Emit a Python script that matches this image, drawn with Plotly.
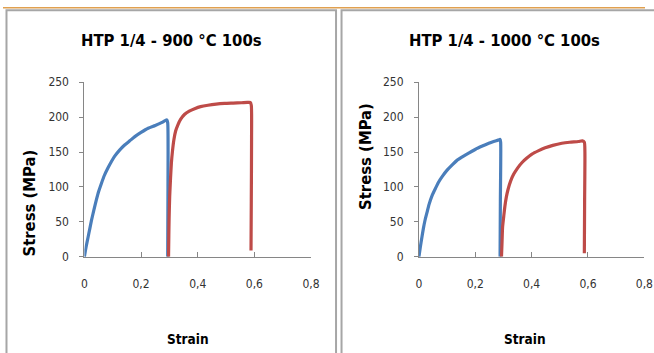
import plotly.graph_objects as go

# ---- data ----
titles = ["HTP 1/4 - 900 °C 100s", "HTP 1/4 - 1000 °C 100s"]
x_ticks = [0, 0.2, 0.4, 0.6, 0.8]
x_tick_labels = ["0", "0,2", "0,4", "0,6", "0,8"]
y_ticks = [0, 50, 100, 150, 200, 250]

s900_a_strain = [0, 0.006, 0.013, 0.019, 0.025, 0.033, 0.042, 0.05, 0.06, 0.07, 0.083, 0.095, 0.107, 0.125, 0.142, 0.16, 0.178, 0.2, 0.225, 0.25, 0.272, 0.285, 0.291, 0.294, 0.295, 0.294]
s900_a_stress = [0, 14, 28, 40, 52, 66, 81, 93, 105, 116, 127, 136, 144, 153, 160, 166, 172, 178, 184, 188, 192, 195, 196, 192, 100, 0]
s900_b_strain = [0.297, 0.298, 0.299, 0.301, 0.304, 0.307, 0.311, 0.316, 0.322, 0.33, 0.34, 0.354, 0.37, 0.389, 0.41, 0.436, 0.465, 0.495, 0.525, 0.554, 0.575, 0.585, 0.589, 0.59, 0.589, 0.588]
s900_b_stress = [0, 30, 55, 86, 112, 134, 152, 168, 180, 189, 197, 204, 208.5, 212, 215, 217, 218.5, 219.5, 220, 220.5, 221, 221, 217, 170, 80, 9]

s1000_a_strain = [0, 0.005, 0.011, 0.016, 0.022, 0.029, 0.036, 0.047, 0.06, 0.07, 0.083, 0.1, 0.119, 0.135, 0.154, 0.175, 0.201, 0.225, 0.248, 0.265, 0.281, 0.288, 0.29, 0.289, 0.288]
s1000_a_stress = [0, 14, 29, 41, 53, 64, 75, 88, 99, 107, 115, 124, 132, 138, 143, 148, 154, 158.5, 162.5, 165, 167, 168, 164, 80, 0]
s1000_b_strain = [0.293, 0.295, 0.297, 0.301, 0.305, 0.31, 0.316, 0.325, 0.336, 0.35, 0.366, 0.382, 0.401, 0.425, 0.448, 0.475, 0.507, 0.535, 0.566, 0.58, 0.587, 0.589, 0.588, 0.587]
s1000_b_stress = [0, 22, 43, 58, 72, 85, 96, 108, 118, 127, 135, 141, 147, 152, 156, 159.5, 162.5, 164, 165, 166, 164, 150, 80, 5]

BLUE = "#4a7ebb"
RED = "#be4b48"
W, H = 654, 353
FONT = "DejaVu Sans Condensed, Lato, sans-serif"

# target-pixel -> figure-pixel mapping (compensates the page offset seen in the capture)
def fx(t):
    return min(max((t - 1.5) / 0.983, 0), W)


def fy(t):
    return min(max((t - 6.6) / 0.957, 0), H)


def px(t):
    return fx(t) / W


def py(t):
    return 1 - fy(t) / H


fig = go.Figure()


def add(x, y, color, xa, ya):
    fig.add_trace(go.Scatter(x=x, y=y, mode="lines",
                             line=dict(color=color, width=3.2, shape="spline", smoothing=0.6),
                             xaxis=xa, yaxis=ya, showlegend=False, hoverinfo="skip"))


add(s900_a_strain, s900_a_stress, BLUE, "x", "y")
add(s900_b_strain, s900_b_stress, RED, "x", "y")
add(s1000_a_strain, s1000_a_stress, BLUE, "x2", "y2")
add(s1000_b_strain, s1000_b_stress, RED, "x2", "y2")

ydom = [py(255.5), py(81.5)]
xcommon = dict(range=[0, 0.8], tickvals=x_ticks, ticktext=x_tick_labels, showgrid=False,
               zeroline=False, showline=True, linecolor="#868686", linewidth=1,
               ticks="inside", ticklen=5, tickcolor="#868686",
               tickfont=dict(family=FONT, size=12, color="#333333"), ticklabelstandoff=16)
ycommon = dict(range=[0, 250], tickvals=y_ticks, showgrid=False, zeroline=False,
               showline=True, linecolor="#868686", linewidth=1,
               ticks="outside", ticklen=4, tickcolor="#868686",
               tickfont=dict(family=FONT, size=12, color="#333333"), ticklabelstandoff=8)

fig.update_layout(
    width=W, height=H, margin=dict(l=0, r=0, t=0, b=0),
    paper_bgcolor="white", plot_bgcolor="white",
    xaxis=dict(domain=[px(83), px(310)], anchor="y", **xcommon),
    yaxis=dict(domain=ydom, anchor="x", **ycommon),
    xaxis2=dict(domain=[px(418), min(px(645), 0.999)], anchor="y2", **xcommon),
    yaxis2=dict(domain=ydom, anchor="x2", **ycommon),
)

shapes = [
    dict(type="line", xref="paper", yref="paper", x0=0, x1=1, y0=0.998, y1=0.998,
         line=dict(color="#e0a050", width=1.5)),
    dict(type="rect", xref="paper", yref="paper", x0=px(5), x1=px(335), y0=-0.1, y1=1 - 3.5 / H,
         line=dict(color="#a6a6a6", width=2)),
    dict(type="rect", xref="paper", yref="paper", x0=px(340.5), x1=1.1, y0=-0.1, y1=1 - 3.5 / H,
         line=dict(color="#a6a6a6", width=2)),
]
fig.update_layout(shapes=shapes)

ann = []
for t, cx in zip(titles, [170, 504]):
    ann.append(dict(text="<b>" + t + "</b>", x=px(cx), y=py(40), xref="paper", yref="paper",
                    showarrow=False, xanchor="center", yanchor="middle",
                    font=dict(family=FONT, size=16.5, color="#000000")))
for cx in [187, 524]:
    ann.append(dict(text="<b>Strain</b>", x=px(cx), y=py(337), xref="paper", yref="paper",
                    showarrow=False, xanchor="center", yanchor="middle",
                    font=dict(family=FONT, size=13.5, color="#000000")))
for cx, cy in [(28, 202), (365, 156)]:
    ann.append(dict(text="<b>Stress (MPa)</b>", x=px(cx), y=py(cy), xref="paper", yref="paper",
                    showarrow=False, textangle=-90, xanchor="center", yanchor="middle",
                    font=dict(family=FONT, size=16.5, color="#000000")))
fig.update_layout(annotations=ann)

fig.write_html("out.html")
